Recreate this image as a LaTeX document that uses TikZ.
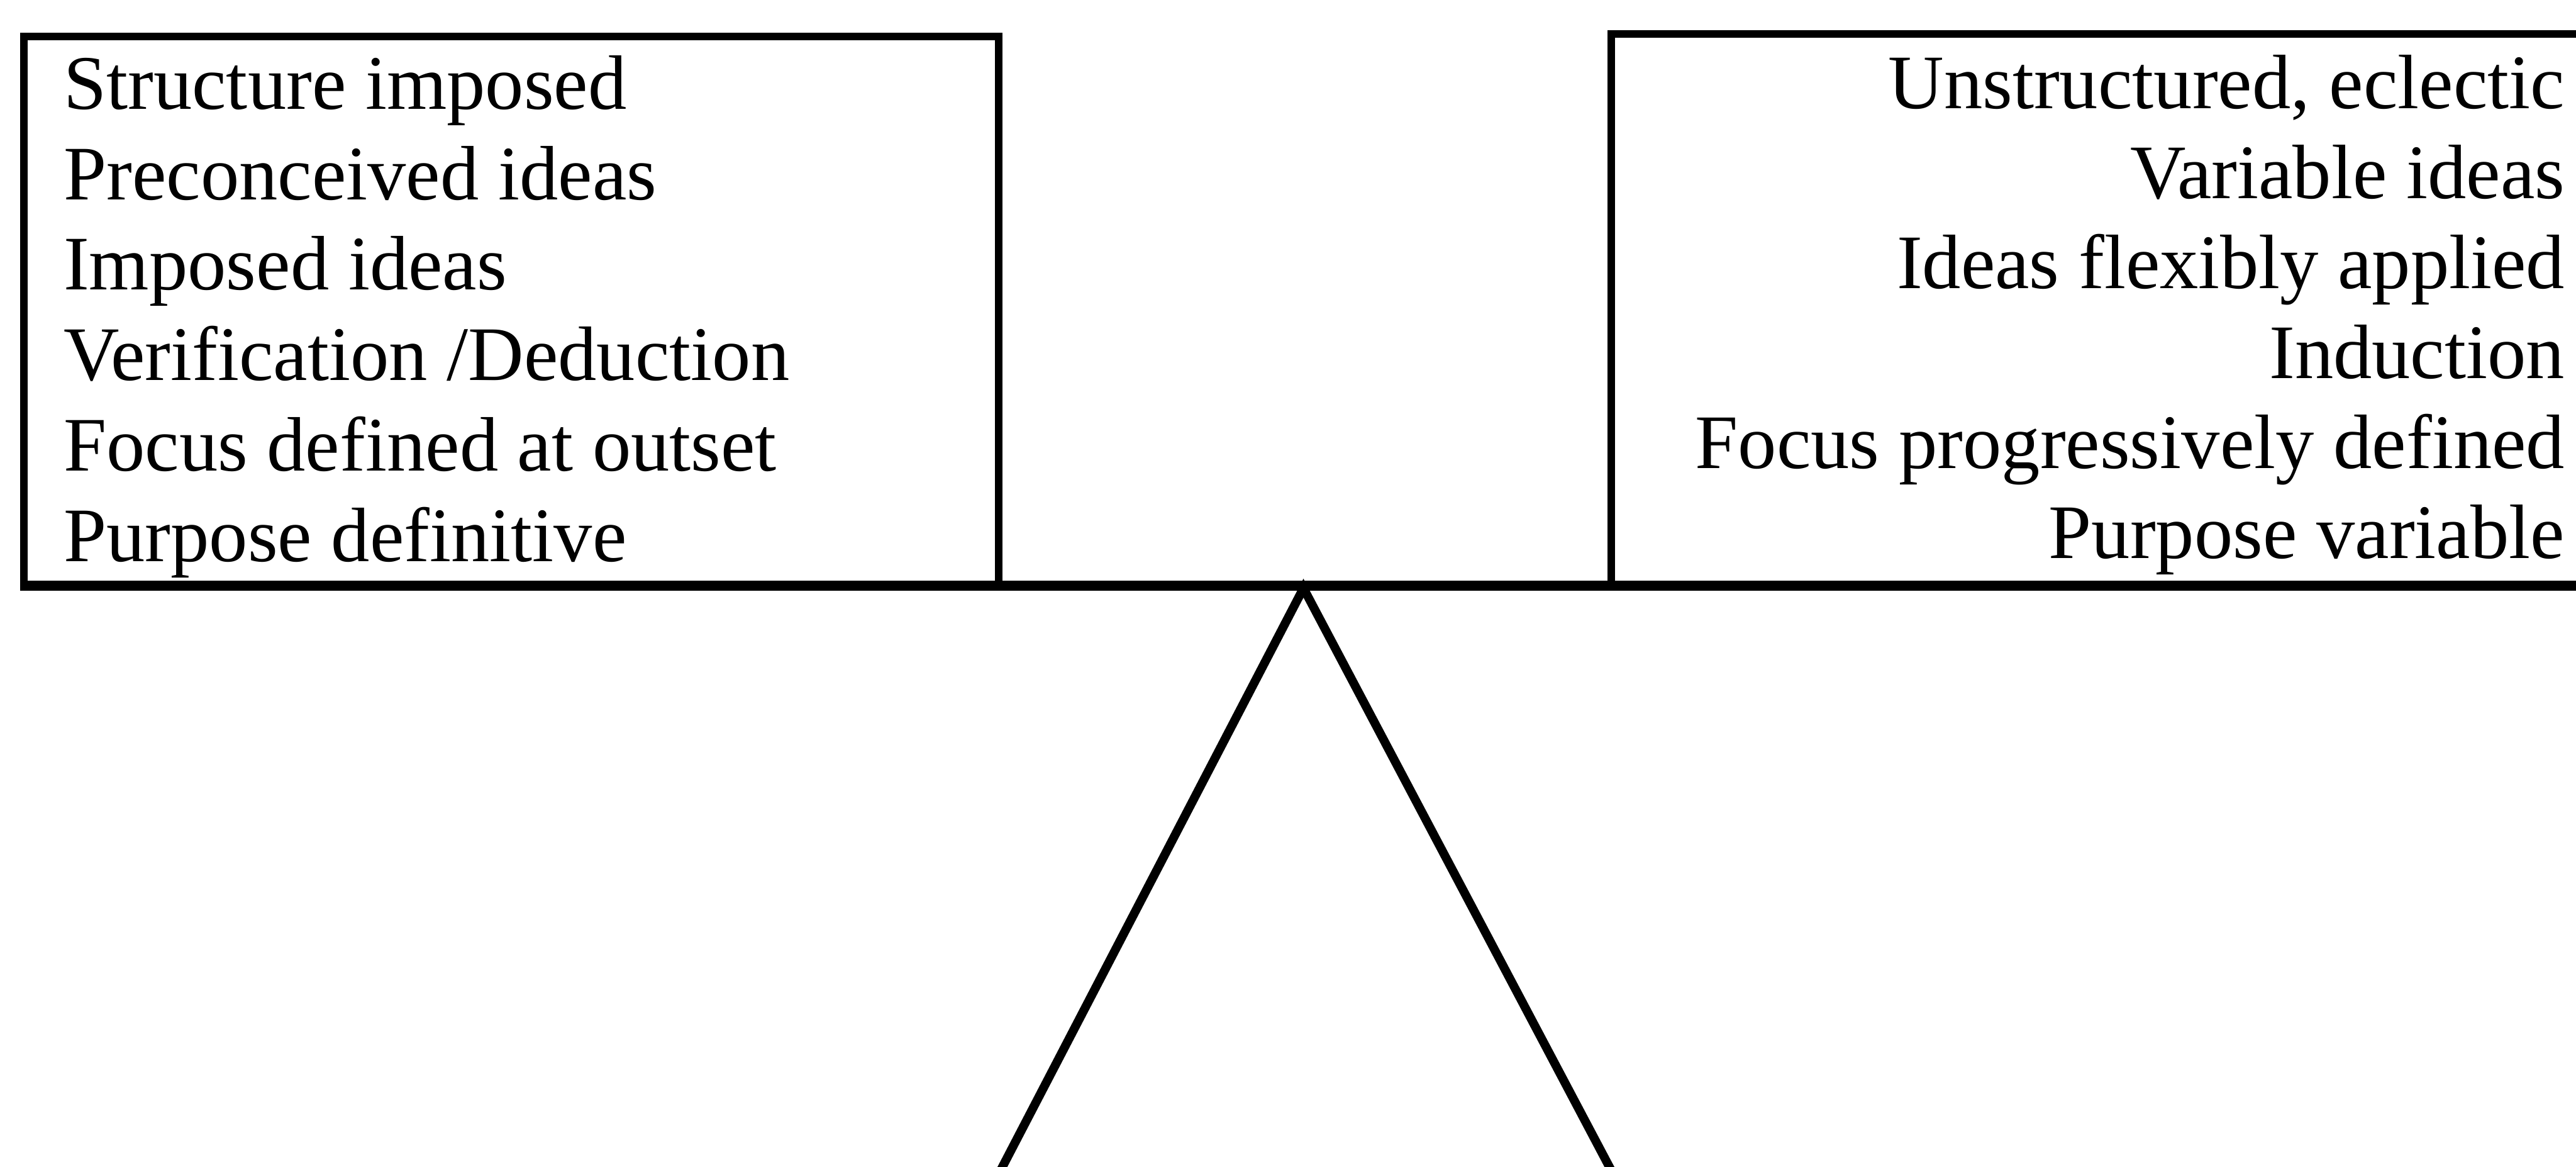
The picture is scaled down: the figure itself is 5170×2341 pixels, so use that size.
\documentclass[tikz,border=0pt]{standalone}
\usepackage{fontspec}
\setmainfont{Liberation Serif}
\begin{document}
\begin{tikzpicture}[x=0.01cm,y=-0.01cm,
  txt/.style={inner sep=0pt, font=\fontsize{44pt}{51pt}\selectfont},
  boxframe/.style={draw=black, line width=4.3pt, inner sep=0pt},
  beamline/.style={line width=5.7pt},
  legline/.style={line width=5pt}]
\useasboundingbox (0,0) rectangle (5170,2341);
\clip (0,0) rectangle (5170,2341);
% boxes
\node[boxframe, minimum width=19.55cm, minimum height=11.01cm] (lbox) at (1026.5,624.5) {};
\node[boxframe, minimum width=20.16cm, minimum height=11.07cm] (rbox) at (4242,621.5) {};
% beam
\coordinate (beamL) at (41,1175);
\coordinate (beamR) at (5170,1175);
\draw[beamline] (beamL) -- (beamR);
% stand
\coordinate (apex) at (2616,1180);
\coordinate (lfoot) at (2002,2360);
\coordinate (rfoot) at (3240,2360);
\draw[legline, line join=miter] (lfoot) -- (apex) -- (rfoot);
% left texts
\foreach \t [count=\i from 0] in {Structure imposed,Preconceived ideas,Imposed ideas,Verification /Deduction,Focus defined at outset,Purpose definitive}
  \node[txt, anchor=base west] (l\i) at (127,{219+181.4*\i}) {\t};
% right texts
\foreach \t [count=\i from 0] in {{Unstructured, eclectic},Variable ideas,Ideas flexibly applied,Induction,Focus progressively defined,Purpose variable}
  \node[txt, anchor=base east] (r\i) at (5148,{218+180.4*\i}) {\t};
\end{tikzpicture}
\end{document}
